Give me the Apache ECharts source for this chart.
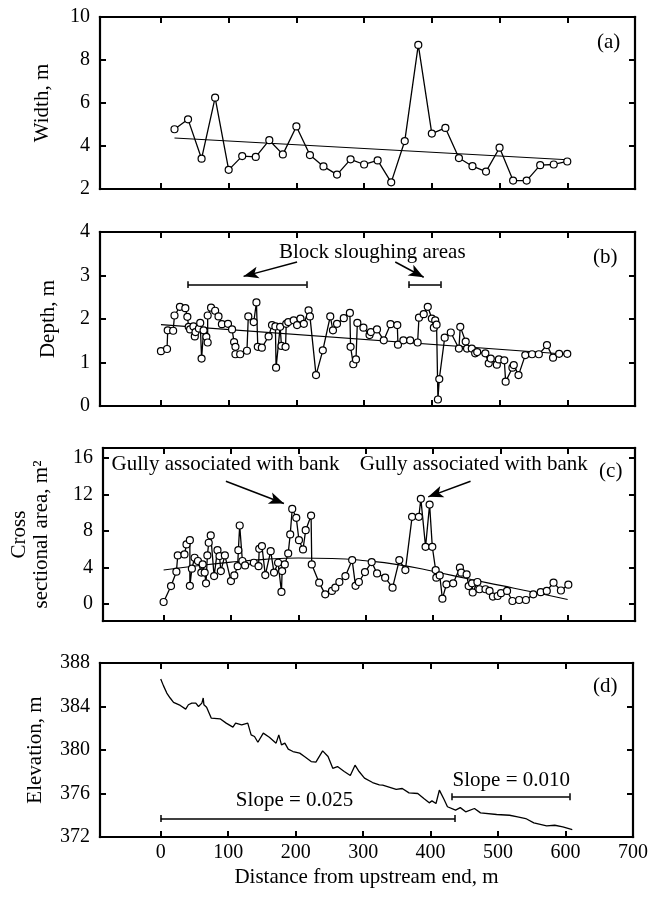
<!DOCTYPE html>
<html><head><meta charset="utf-8">
<script src="https://cdn.jsdelivr.net/npm/echarts@6/dist/echarts.min.js"></script>
<style>html,body{margin:0;padding:0;background:#fff}#c{width:651px;height:898px}</style>
</head><body><div id="c"></div>
<script>
const FONT = 'Liberation Serif';

// ---- data ----
const widthX = [20,40,60,80,100,120,140,160,180,200,220,240,260,280,300,320,340,360,380,400,420,440,460,480,500,520,540,560,580,600];
const widthY = [4.78,5.24,3.41,6.25,2.89,3.53,3.49,4.27,3.61,4.91,3.58,3.05,2.67,3.38,3.14,3.33,2.31,4.23,8.70,4.58,4.84,3.44,3.06,2.81,3.92,2.39,2.39,3.11,3.14,3.28];
const widthTrendX = [20,600];
const widthTrendY = [4.37,3.36];

const depthX = [0,9,10,18,20,28,36,39,41,43,48,50,51,56,58,60,63,67,69,69,74,80,85,90,99,105,108,110,110,117,127,129,137,141,143,149,159,164,169,170,176,178,184,185,188,196,201,206,211,218,220,229,239,250,254,260,270,279,280,284,288,290,299,308,310,319,329,339,349,350,358,368,379,381,388,394,400,403,405,407,409,411,419,428,440,442,450,452,459,464,467,479,484,487,496,499,507,509,519,521,528,538,548,558,570,579,588,600];
const depthY = [1.26,1.31,1.74,1.73,2.08,2.28,2.25,2.05,1.82,1.76,1.83,1.60,1.70,1.78,1.91,1.09,1.74,1.59,1.46,2.08,2.26,2.19,2.06,1.88,1.89,1.76,1.47,1.36,1.19,1.19,1.27,2.06,1.93,2.38,1.36,1.34,1.60,1.86,1.83,0.88,1.82,1.38,1.36,1.89,1.93,1.97,1.86,2.01,1.89,2.20,2.06,0.71,1.28,2.06,1.74,1.89,2.02,2.14,1.36,0.96,1.07,1.91,1.80,1.63,1.70,1.76,1.51,1.88,1.86,1.41,1.51,1.51,1.46,2.03,2.11,2.28,2.01,1.80,1.97,1.87,0.15,0.62,1.57,1.69,1.32,1.82,1.48,1.32,1.32,1.21,1.24,1.21,0.98,1.09,0.95,1.07,1.05,0.56,0.88,0.94,0.71,1.17,1.19,1.19,1.40,1.11,1.20,1.20];
const depthTrendX = [0,600];
const depthTrendY = [1.87,1.19];

const areaX = [0,11,19,21,31,34,39,39,42,46,51,56,58,61,63,65,67,70,75,80,83,85,91,100,105,110,111,113,117,121,134,141,142,146,151,159,164,170,175,176,180,185,188,191,197,201,207,211,219,220,231,240,250,255,261,270,280,285,290,299,309,317,329,340,350,359,369,379,382,389,395,399,404,405,410,414,420,430,440,442,450,453,458,459,466,469,478,484,489,496,501,510,518,528,538,549,560,569,579,590,601];
const areaY = [0.23,1.98,3.55,5.33,5.44,6.54,7.0,2.0,3.88,5.08,4.72,3.45,4.36,3.45,2.28,5.33,6.72,7.52,3.07,5.91,5.26,3.62,5.33,2.52,3.14,4.16,5.91,8.61,4.72,4.24,4.53,4.16,6.06,6.36,3.18,5.8,3.45,4.53,1.33,3.62,4.35,5.55,7.63,10.43,9.45,7.0,5.99,8.1,9.7,4.35,2.35,1.07,1.44,1.8,2.42,3.07,4.82,2.0,2.42,3.51,4.6,3.36,2.9,1.8,4.82,3.73,9.56,9.56,11.53,6.28,10.9,6.28,3.73,2.9,3.14,0.6,2.17,2.28,3.99,3.44,3.25,1.98,2.28,1.27,2.42,1.63,1.63,1.44,0.82,0.89,1.2,1.44,0.34,0.45,0.45,1.07,1.31,1.44,2.35,1.49,2.13];
const areaTrendX = [0,50,100,150,200,250,300,350,400,450,500,550,600];
const areaTrendY = [3.73,4.2,4.6,4.9,5.05,5.0,4.75,4.3,3.6,2.8,2.05,1.3,0.5];

const elevX = [0,4,9,14,19,29,37,41,46,52,56,61,63,64,68,75,88,97,107,111,120,129,134,139,144,152,161,171,175,179,184,189,196,206,213,223,230,240,248,255,262,272,281,288,294,302,314,324,329,349,358,368,381,390,398,402,408,413,420,425,437,444,452,465,474,498,517,529,541,553,572,584,596,610];
const elevY = [386.53,385.92,385.24,384.78,384.38,384.1,383.76,384.16,384.31,384.31,384.0,384.31,384.78,384.16,383.94,382.93,382.87,382.47,382.1,382.47,382.32,382.47,381.39,381.24,380.71,381.55,381.18,380.63,381.39,380.47,380.63,380.08,379.86,379.71,379.4,378.94,378.88,379.92,379.4,378.32,378.48,378.02,377.65,378.6,378.02,377.41,377.01,376.8,376.77,376.37,376.46,376.06,376.0,375.54,375.14,375.32,375.08,376.31,375.45,374.78,374.47,374.7,374.32,374.62,374.22,374.07,374.0,373.85,373.7,373.3,373.02,373.08,372.93,372.68];

const xTicks = [0,100,200,300,400,500,600,700];
const widthTicks = [2,4,6,8,10];
const depthTicks = [0,1,2,3,4];
const areaTicks = [0,4,8,12,16];
const elevTicks = [372,376,380,384,388];

const panelLabels = ['(a)','(b)','(c)','(d)'];
const yNames = ['Width, m','Depth, m','Cross\nsectional area, m\u00B2','Elevation, m'];
const xName = 'Distance from upstream end, m';

// ---- layout ----
const grids = [
  {top:17, height:172},
  {top:232, height:174},
  {top:448, height:173},
  {top:663, height:174}
].map(g => Object.assign({left:100, right:16, show:false}, g));

const yRanges = [[2,10],[0,4],[-1.85,17.1],[372,388]];
const yTickSets = [widthTicks, depthTicks, areaTicks, elevTicks];
const nameGaps = [47, 41, 51, 54];

const tickStyle = {show:true, inside:true, length:6, lineStyle:{color:'#000', width:2}};
const frameLine = {show:true, onZero:false, lineStyle:{color:'#000', width:2.2, cap:'square'}};
const xAxes = [], yAxes = [];
for (let i = 0; i < 4; i++) {
  xAxes.push({
    type:'value', gridIndex:i, min:-90, max:700, position:'bottom',
    axisLine:frameLine, splitLine:{show:false},
    axisTick:Object.assign({customValues:xTicks}, tickStyle),
    axisLabel:{show:i===3, customValues:xTicks, margin:6, fontFamily:FONT, fontSize:20, color:'#000'},
    name: i===3 ? xName : '', nameLocation:'middle', nameGap:30,
    nameTextStyle:{fontFamily:FONT, fontSize:21, color:'#000'}
  });
  xAxes.push({
    type:'value', gridIndex:i, min:-90, max:700, position:'top',
    axisLine:frameLine, splitLine:{show:false},
    axisTick:Object.assign({customValues:xTicks}, tickStyle),
    axisLabel:{show:false, customValues:xTicks}
  });
  yAxes.push({
    type:'value', gridIndex:i, min:yRanges[i][0], max:yRanges[i][1], position:'left',
    axisLine:frameLine, splitLine:{show:false},
    axisTick:Object.assign({customValues:yTickSets[i]}, tickStyle),
    axisLabel:{customValues:yTickSets[i], margin:10, fontFamily:FONT, fontSize:20, color:'#000'},
    name:yNames[i], nameLocation:'middle', nameGap:nameGaps[i],
    nameTextStyle:{fontFamily:FONT, fontSize:21, color:'#000', lineHeight:22}
  });
  yAxes.push({
    type:'value', gridIndex:i, min:yRanges[i][0], max:yRanges[i][1], position:'right',
    axisLine:frameLine, splitLine:{show:false},
    axisTick:Object.assign({customValues:yTickSets[i]}, tickStyle),
    axisLabel:{show:false, customValues:yTickSets[i]}
  });
}

const zip = (xs, ys) => xs.map((x, k) => [x, ys[k]]);
const seg = (x1,y1,x2,y2) => [{coord:[x1,y1], symbol:'none'},{coord:[x2,y2], symbol:'none'}];
const arrow = (x1,y1,x2,y2) => [{coord:[x1,y1], symbol:'none'},{coord:[x2,y2], symbol:'arrow', symbolSize:[9,15]}];
const txt = (x,y,t,size) => ({coord:[x,y], label:{formatter:t, fontSize:size||21}});

function markLines(items){
  return {silent:true, symbol:['none','none'], label:{show:false}, emphasis:{disabled:true},
    lineStyle:{type:'solid', color:'#000', width:1.5}, data:items};
}
function markPoints(items){
  return {silent:true, symbol:'circle', symbolSize:1, itemStyle:{color:'rgba(0,0,0,0)'},
    label:{show:true, position:'inside', color:'#000', fontFamily:FONT, fontSize:21},
    emphasis:{disabled:true}, data:items};
}

function dataSeries(i, xs, ys, sym, extra){
  return Object.assign({
    type:'line', xAxisIndex:i*2, yAxisIndex:i*2, data:zip(xs, ys),
    symbol: sym ? 'circle' : 'none', symbolSize:7, showAllSymbol:true,
    itemStyle:{color:'#fff', borderColor:'#000', borderWidth:1.2},
    lineStyle:{color:'#000', width:1.3}, emphasis:{disabled:true}, silent:true, z:3
  }, extra || {});
}
function trendSeries(i, xs, ys, smooth){
  return {type:'line', xAxisIndex:i*2, yAxisIndex:i*2, data:zip(xs, ys), symbol:'none',
    smooth: !!smooth, lineStyle:{color:'#000', width:1.1}, emphasis:{disabled:true}, silent:true, z:2};
}

const series = [
  trendSeries(0, widthTrendX, widthTrendY),
  dataSeries(0, widthX, widthY, true, {
    markPoint: markPoints([txt(661, 8.8, panelLabels[0])])
  }),
  trendSeries(1, depthTrendX, depthTrendY),
  dataSeries(1, depthX, depthY, true, {
    markLine: markLines([
      arrow(201,3.31,122,2.98), arrow(346,3.31,388,2.96),
      seg(40,2.79,215,2.79), seg(40,2.71,40,2.87), seg(215,2.71,215,2.87),
      seg(366,2.79,413,2.79), seg(366,2.71,366,2.87), seg(413,2.71,413,2.87)
    ]),
    markPoint: markPoints([txt(312,3.53,'Block sloughing areas'), txt(656,3.42,panelLabels[1])])
  }),
  trendSeries(2, areaTrendX, areaTrendY, true),
  dataSeries(2, areaX, areaY, true, {
    markLine: markLines([arrow(92.5,13.45,178.7,11.02), arrow(455.8,13.45,393,11.75)]),
    markPoint: markPoints([txt(92,15.28,'Gully associated with bank'), txt(460.6,15.28,'Gully associated with bank'), txt(664,14.55,panelLabels[2])])
  }),
  dataSeries(3, elevX, elevY, false, {
    markLine: markLines([
      seg(0,373.7,436,373.7), seg(0,373.38,0,374.02), seg(436,373.38,436,374.02),
      seg(432,375.7,606,375.7), seg(432,375.38,432,376.02), seg(606,375.38,606,376.02)
    ]),
    markPoint: markPoints([txt(198.4,375.39,'Slope = 0.025'), txt(519.6,377.23,'Slope = 0.010'), txt(658.8,385.8,panelLabels[3])])
  })
];

const chart = echarts.init(document.getElementById('c'), null, {renderer:'canvas'});
chart.setOption({
  animation:false,
  backgroundColor:'#fff',
  textStyle:{fontFamily:FONT},
  grid:grids, xAxis:xAxes, yAxis:yAxes, series:series
});
</script></body></html>
